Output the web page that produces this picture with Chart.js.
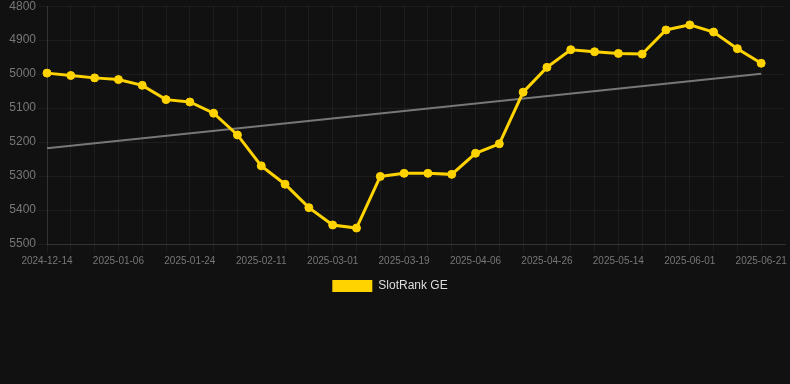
<!DOCTYPE html>
<html>
<head>
<meta charset="utf-8">
<script src="https://cdn.jsdelivr.net/npm/chart.js@4/dist/chart.umd.min.js"></script>
<style>
  html, body { margin: 0; padding: 0; background: #111111; overflow: hidden; }
  #wrap { width: 790px; height: 306px; position: relative; top: -4px; }
</style>
</head>
<body>
<div id="wrap"><canvas id="c"></canvas></div>
<script>
const categories = [
  '2024-12-14','2024-12-22','2024-12-30','2025-01-06','2025-01-12','2025-01-18',
  '2025-01-24','2025-01-30','2025-02-05','2025-02-11','2025-02-17','2025-02-23',
  '2025-03-01','2025-03-07','2025-03-13','2025-03-19','2025-03-25','2025-03-31',
  '2025-04-06','2025-04-13','2025-04-20','2025-04-26','2025-05-02','2025-05-08',
  '2025-05-14','2025-05-20','2025-05-26','2025-06-01','2025-06-08','2025-06-15',
  '2025-06-21','2025-06-27'
];
const rankValues = [
  4997, 5004, 5011, 5016, 5033, 5075, 5082, 5115, 5179, 5270, 5324,
  5393, 5444, 5453, 5301, 5292, 5292, 5295, 5233, 5205, 5053, 4980,
  4928, 4934, 4939, 4941, 4870, 4855, 4876, 4925, 4968, null
];
const trendStart = 5218;
const trendEnd = 4999;
const yTicks = [4800, 4900, 5000, 5100, 5200, 5300, 5400, 5500];
const seriesName = 'SlotRank GE';

const trendData = categories.map((_, i) => i === 0 ? trendStart : (i === rankValues.length - 2 ? trendEnd : null));

const legendShift = {
  id: 'legendShift',
  afterLayout(chart) { if (chart.legend) { chart.legend.right -= 10; } }
};

new Chart(document.getElementById('c'), {
  type: 'line',
  plugins: [legendShift],
  data: {
    labels: categories,
    datasets: [
      {
        label: seriesName,
        data: rankValues,
        borderColor: '#FFD300',
        backgroundColor: '#FFD300',
        borderWidth: 3,
        pointRadius: 4,
        pointBorderWidth: 1,
        pointBackgroundColor: '#FFD300',
        pointBorderColor: '#FFD300',
        tension: 0,
        order: 1
      },
      {
        label: 'trend',
        data: trendData,
        borderColor: '#777777',
        borderWidth: 2,
        pointRadius: 0,
        spanGaps: true,
        order: 2
      }
    ]
  },
  options: {
    responsive: true,
    maintainAspectRatio: false,
    animation: false,
    layout: { padding: 0 },
    scales: {
      x: {
        offset: false,
        grid: {
          color: (ctx) => (ctx.index === categories.length - 1 ? 'rgba(0,0,0,0)' : 'rgba(255,255,255,0.05)'),
          tickLength: 8
        },
        border: { color: 'rgba(255,255,255,0.1)' },
        ticks: {
          color: '#777777',
          font: { family: 'Liberation Sans, Arial, sans-serif', size: 10 },
          autoSkip: false,
          maxRotation: 0,
          callback: function(v, i) { return (i % 3 === 0 && i <= 30) ? categories[i] : ''; }
        }
      },
      y: {
        reverse: true,
        min: 4800,
        max: 5500,
        afterBuildTicks: (scale) => { scale.ticks = yTicks.map(v => ({ value: v })); },
        afterFit: (scale) => { scale.width = 47; },
        grid: { color: 'rgba(255,255,255,0.05)', tickLength: 8 },
        border: { color: 'rgba(255,255,255,0.1)' },
        ticks: {
          color: '#777777',
          font: { family: 'Liberation Sans, Arial, sans-serif', size: 12 },
          callback: (v) => String(v)
        }
      }
    },
    plugins: {
      legend: {
        position: 'bottom',
        labels: {
          color: '#dddddd',
          font: { family: 'Liberation Sans, Arial, sans-serif', size: 12 },
          boxWidth: 40,
          filter: (item) => item.text === seriesName,
          generateLabels: (chart) => Chart.defaults.plugins.legend.labels.generateLabels(chart).map(l => Object.assign(l, { lineWidth: 0 }))
        }
      },
      tooltip: { enabled: false }
    }
  }
});
</script>
</body>
</html>
